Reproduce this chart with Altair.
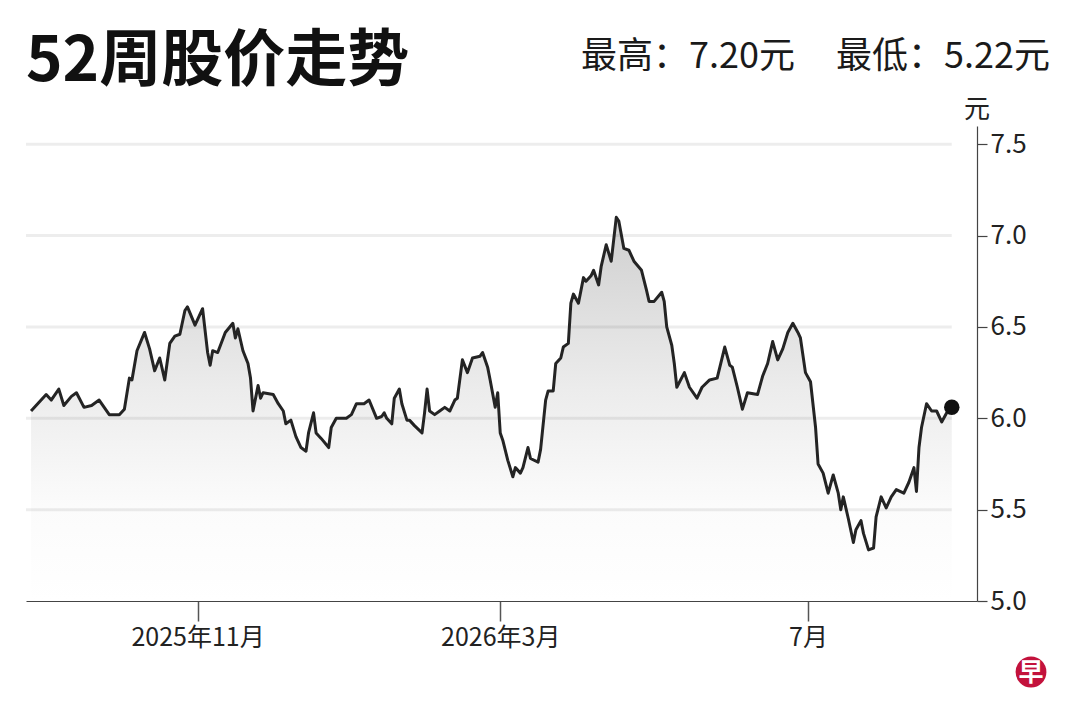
import altair as alt
import pandas as pd

# ---------------- data ----------------
start_date = "2025-08-25"          # left edge of the time axis
end_date = "2026-09-06"            # right edge of the time axis

day_offsets = [
    2, 4, 8, 10, 13, 15, 18, 20, 23, 26,
    29, 31, 33, 37, 39, 41, 42, 44, 47, 49,
    51, 53, 55, 57, 59, 61, 63, 64, 67, 70,
    72, 73, 74, 76, 79, 82, 83, 84, 86, 88,
    89, 90, 92, 93, 94, 98, 100, 102, 103, 105,
    107, 109, 111, 112, 114, 115, 117, 120, 121, 123,
    127, 129, 131, 134, 136, 139, 141, 142, 143, 145,
    146, 148, 149, 151, 152, 154, 157, 158, 159, 160,
    162, 164, 166, 168, 170, 171, 173, 175, 177, 180,
    181, 183, 184, 186, 187, 188, 189, 191, 193, 194,
    196, 197, 199, 200, 203, 204, 206, 207, 209, 210,
    212, 213, 215, 216, 217, 219, 221, 222, 224, 225,
    227, 228, 230, 232, 234, 235, 237, 239, 241, 244,
    246, 247, 249, 252, 253, 254, 256, 257, 258, 261,
    263, 266, 268, 271, 274, 277, 279, 280, 282, 284,
    286, 290, 292, 294, 296, 298, 300, 302, 304, 306,
    307, 309, 311, 313, 314, 316, 318, 320, 322, 323,
    324, 326, 328, 329, 331, 332, 334, 336, 337, 339,
    341, 343, 345, 348, 350, 352, 353, 354, 355, 357,
    359, 361, 363, 365, 367,
]

prices = [
    6.04, 6.07, 6.13, 6.10, 6.16, 6.07, 6.12, 6.14, 6.06, 6.07,
    6.10, 6.06, 6.02, 6.02, 6.05, 6.22, 6.21, 6.37, 6.47, 6.38,
    6.26, 6.33, 6.21, 6.41, 6.45, 6.46, 6.59, 6.61, 6.51, 6.60,
    6.36, 6.29, 6.37, 6.36, 6.47, 6.52, 6.44, 6.49, 6.37, 6.30,
    6.22, 6.04, 6.18, 6.11, 6.14, 6.13, 6.08, 6.04, 5.97, 5.99,
    5.90, 5.84, 5.82, 5.92, 6.03, 5.92, 5.89, 5.84, 5.95, 6.00,
    6.00, 6.02, 6.08, 6.08, 6.10, 6.00, 6.01, 6.03, 6.00, 5.97,
    6.11, 6.16, 6.08, 5.99, 5.99, 5.96, 5.92, 6.03, 6.16, 6.04,
    6.02, 6.04, 6.06, 6.04, 6.10, 6.11, 6.32, 6.25, 6.33, 6.34,
    6.36, 6.28, 6.21, 6.06, 6.14, 5.92, 5.88, 5.77, 5.68, 5.73,
    5.70, 5.73, 5.84, 5.78, 5.76, 5.83, 6.10, 6.15, 6.15, 6.30,
    6.33, 6.39, 6.41, 6.63, 6.68, 6.63, 6.77, 6.75, 6.78, 6.81,
    6.73, 6.83, 6.95, 6.86, 7.10, 7.08, 6.93, 6.92, 6.86, 6.81,
    6.70, 6.64, 6.64, 6.69, 6.64, 6.50, 6.40, 6.30, 6.17, 6.25,
    6.17, 6.11, 6.17, 6.21, 6.22, 6.39, 6.29, 6.28, 6.17, 6.05,
    6.14, 6.13, 6.23, 6.30, 6.42, 6.32, 6.38, 6.47, 6.52, 6.47,
    6.44, 6.25, 6.20, 5.95, 5.75, 5.70, 5.59, 5.69, 5.59, 5.50,
    5.57, 5.45, 5.32, 5.39, 5.44, 5.37, 5.28, 5.29, 5.46, 5.57,
    5.51, 5.57, 5.61, 5.59, 5.65, 5.73, 5.60, 5.84, 5.95, 6.08,
    6.04, 6.04, 5.98, 6.03, 6.06,
]

y_ticks = [5.0, 5.5, 6.0, 6.5, 7.0, 7.5]
grid_values = [5.5, 6.0, 6.5, 7.0, 7.5]
y_domain = [5.0, 7.6]
x_tick_dates = ["2025-11-01", "2026-03-01", "2026-07-01"]
x_tick_labels = ["2025年11月", "2026年3月", "7月"]

title_text = "52周股价走势"
stat_texts = ["最高：7.20元", "最低：5.22元"]
unit_text = "元"
logo_text = "早"

# ---------------- tables ----------------
assert len(day_offsets) == len(prices)
base_ts = pd.Timestamp(start_date)
dates = [(base_ts + pd.Timedelta(days=d)).strftime("%Y-%m-%dT00:00:00") for d in day_offsets]
df = pd.DataFrame({"date": dates, "price": prices})
last_df = df.tail(1)
grid_df = pd.DataFrame({
    "v": grid_values,
    "x0": [pd.Timestamp(start_date).strftime("%Y-%m-%dT00:00:00")] * len(grid_values),
    "x1": [dates[-1]] * len(grid_values),
})
one = pd.DataFrame({"k": [0]})


def dt(s):
    t = pd.Timestamp(s)
    return alt.DateTime(year=t.year, month=t.month, date=t.day)


FONT = "Noto Sans CJK SC"

label_expr = " : ".join(
    f"timeFormat(datum.value, '%Y-%m') == '{pd.Timestamp(d).strftime('%Y-%m')}' ? '{l}'"
    for d, l in zip(x_tick_dates, x_tick_labels)
) + " : ''"

x_scale = alt.Scale(domain=[dt(start_date), dt(end_date)])
y_scale = alt.Scale(domain=y_domain, nice=False, zero=False)

x_axis = alt.Axis(
    values=[dt(d) for d in x_tick_dates], labelExpr=label_expr, title=None, grid=False,
    domainColor="#444444", domainWidth=1.2, tickColor="#555555", tickWidth=1.5, tickSize=20,
    labelFontSize=25, labelColor="#222222", labelFont=FONT, labelPadding=4,
    labelFlush=False, labelOverlap=False,
)
y_axis = alt.Axis(
    orient="right", values=y_ticks, format=".1f", title=None, grid=False,
    domainColor="#444444", domainWidth=1.2, tickColor="#444444", tickWidth=1.2, tickSize=10,
    labelFontSize=26, labelColor="#222222", labelFont=FONT, labelPadding=3,
)


def X(field):
    return alt.X(field, type="temporal", scale=x_scale, axis=x_axis)


def Y(field):
    return alt.Y(field, type="quantitative", scale=y_scale, axis=y_axis)


area = alt.Chart(df).mark_area(
    color=alt.Gradient(
        gradient="linear",
        stops=[
            alt.GradientStop(color="#cfcfcf", offset=0),
            alt.GradientStop(color="#ececec", offset=0.45),
            alt.GradientStop(color="#fbfbfb", offset=0.75),
            alt.GradientStop(color="#ffffff", offset=1),
        ],
        x1=1, x2=1, y1=0, y2=1,
    )
).encode(x=X("date"), y=Y("price"), y2=alt.datum(y_domain[0]))

grid = alt.Chart(grid_df).mark_rule(color="#000000", opacity=0.07, strokeWidth=3).encode(
    x=X("x0"), x2="x1", y=Y("v")
)

line = alt.Chart(df).mark_line(color="#242424", strokeWidth=3, strokeJoin="round").encode(
    x=X("date"), y=Y("price")
)

dot = alt.Chart(last_df).mark_circle(size=240, color="#111111", opacity=1).encode(
    x=X("date"), y=Y("price")
)

title = alt.Chart(one).mark_text(
    text=title_text, font=FONT, fontSize=62, fontWeight="bold", color="#111111",
    align="left", baseline="alphabetic",
).encode(x=alt.value(0), y=alt.value(-45))

stat1 = alt.Chart(one).mark_text(
    text=stat_texts[0], font=FONT, fontSize=36, color="#1a1a1a",
    align="left", baseline="alphabetic",
).encode(x=alt.value(555), y=alt.value(-58))

stat2 = alt.Chart(one).mark_text(
    text=stat_texts[1], font=FONT, fontSize=36, color="#1a1a1a",
    align="left", baseline="alphabetic",
).encode(x=alt.value(810), y=alt.value(-58))

unit = alt.Chart(one).mark_text(
    text=unit_text, font=FONT, fontSize=26, color="#222222",
    align="center", baseline="alphabetic",
).encode(x=alt.value(951), y=alt.value(-8))

logo_bg = alt.Chart(one).mark_circle(size=950, color="#c3123c", opacity=1).encode(
    x=alt.value(1005), y=alt.value(546)
)
logo_tx = alt.Chart(one).mark_text(
    text=logo_text, font=FONT, fontSize=25, fontWeight="bold", color="#ffffff",
    align="center", baseline="middle",
).encode(x=alt.value(1005), y=alt.value(547))

chart = alt.layer(
    area, grid, line, dot, title, stat1, stat2, unit, logo_bg, logo_tx
).properties(
    width=951, height=475,
    padding={"left": 18, "top": 118, "right": 95, "bottom": 111},
    autosize=alt.AutoSizeParams(type="none"),
    background="#ffffff",
).configure_view(stroke=None)

chart.save("out.html", embed_options={"renderer": "svg", "actions": False})
